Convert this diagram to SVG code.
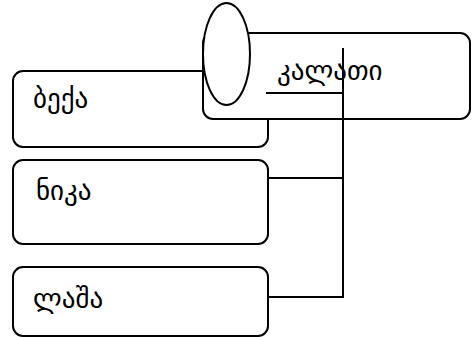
<svg xmlns="http://www.w3.org/2000/svg" width="472" height="337" viewBox="0 0 472 337">
<style>
.box{fill:#fff;stroke:#000;stroke-width:2}
.ln{fill:none;stroke:#000;stroke-width:2}
.t{font-family:"DejaVu Sans",sans-serif;font-size:27px;fill:#000}
</style>
<rect width="472" height="337" fill="#fff"/>
<g id="beka"><rect class="box" x="13" y="71" width="255" height="76" rx="10"/><text class="t" x="33" y="108">ბექა</text></g>
<g id="nika"><rect class="box" x="13" y="160" width="255" height="84" rx="10"/><text class="t" x="36" y="200">ნიკა</text></g>
<g id="lasha"><rect class="box" x="13" y="267" width="255" height="69" rx="10"/><text class="t" x="33" y="308">ლაშა</text></g>
<g id="kalati"><rect class="box" x="203" y="33" width="267" height="86" rx="10"/><ellipse class="box" cx="226.5" cy="54" rx="23.5" ry="51"/><text class="t" x="277" y="80">კალათი</text></g>
<g id="connectors">
<path class="ln" d="M266 93H343M343 48V297H268M268 178H343"/>
</g>
</svg>
